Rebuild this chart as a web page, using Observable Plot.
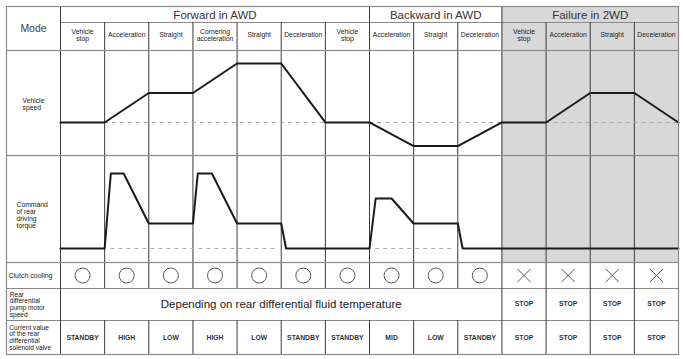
<!DOCTYPE html>
<html><head><meta charset="utf-8">
<script src="https://cdn.jsdelivr.net/npm/d3@7"></script>
<script src="https://cdn.jsdelivr.net/npm/@observablehq/plot@0.6"></script>
<style>
body{margin:0;background:#fff}
#chart{width:683px}
#chart svg{display:block;font-family:"Liberation Sans",Arial,sans-serif}
</style>
</head><body><div id="chart"></div>
<script>
// ---------- data ----------
const groupNames = ["Forward in AWD", "Backward in AWD", "Failure in 2WD"];
const groupStart = [0, 7, 10];
const groupEnd = [7, 10, 14];
const columnLabels = ["Vehicle\nstop", "Acceleration", "Straight", "Cornering\nacceleration", "Straight", "Deceleration", "Vehicle\nstop",
  "Acceleration", "Straight", "Deceleration",
  "Vehicle\nstop", "Acceleration", "Straight", "Deceleration"];
const rowLabels = ["Mode", "Vehicle\nspeed", "Command\nof rear\ndriving\ntorque", "Clutch cooling",
  "Rear\ndifferential\npump motor\nspeed", "Current value\nof the rear\ndifferential\nsolenoid valve"];
const speedTime = [0, 1, 2, 3, 4, 5, 6, 7, 8, 9, 10, 11, 12, 13, 14];
const speedLevel = [0, 0, 1, 1, 2, 2, 0, 0, -0.8, -0.8, 0, 0, 1, 1, 0];
const torqueTime = [0, 1, 1.14, 1.43, 2, 3, 3.11, 3.43, 4, 5, 5.11, 7, 7.14, 7.5, 8, 9, 9.11, 14];
const torqueLevel = [0, 0, 3, 3, 1, 1, 3, 3, 1, 1, 0, 0, 2, 2, 1, 1, 0, 0];
const speedDashFrom = [1, 7, 11];
const speedDashTo = [6, 10, 14];
const torqueDashFrom = [1, 7];
const torqueDashTo = [5, 9];
const clutchCooling = ["O","O","O","O","O","O","O","O","O","O","X","X","X","X"];
const pumpText = "Depending on rear differential fluid temperature";
const pumpSpanEnd = 10;
const pumpValues = ["STOP", "STOP", "STOP", "STOP"];
const solenoidValues = ["STANDBY","HIGH","LOW","HIGH","LOW","STANDBY","STANDBY","MID","LOW","STANDBY","STOP","STOP","STOP","STOP"];

// ---------- layout ----------
const W = 683;
const X0 = -1.2234;            // left edge of label column (in column units)
const NCOL = columnLabels.length;
const failStart = groupStart[2];
const LINE = "#3a3a3a", BORDER = "#8a8a8a", GRAY = "#d8d8d8";
const cols = d3.range(NCOL);
const base = {width: W, marginLeft: 6, marginRight: 5, marginBottom: 0, marginTop: 0,
  x: {domain: [X0, NCOL], axis: null}};
const font = {fontFamily: '"Liberation Sans",Arial,sans-serif'};
const chart = document.getElementById("chart");

// header
chart.append(Plot.plot({...base, height: 50, marginTop: 6,
  y: {domain: [6, 50], range: [6, 50], axis: null},
  marks: [
    Plot.rect([0], {x1: () => failStart, x2: () => NCOL, y1: () => 6, y2: () => 50, fill: GRAY}),
    Plot.ruleY([22], {x1: 0, x2: NCOL, stroke: BORDER, strokeWidth: 1.2}),
    Plot.ruleX(groupStart, {y1: 6, y2: 50, stroke: LINE}),
    Plot.ruleX(cols.filter(i => i > 0 && !groupStart.includes(i)), {y1: 22, y2: 50, stroke: LINE}),
    Plot.frame({stroke: BORDER, strokeWidth: 1.2}),
    Plot.text([rowLabels[0]], {x: X0 / 2, y: 28, text: d => d, fontSize: 10.5, fill: "#444", ...font}),
    Plot.text(groupNames, {x: (d, i) => (groupStart[i] + groupEnd[i]) / 2, y: 14.5, text: d => d, fontSize: 11.5, fill: "#333", ...font}),
    Plot.text(columnLabels, {x: (d, i) => i + 0.5, y: 34.5, text: d => d, fontSize: 6.8, lineHeight: 1.05, fill: "#222", ...font})
  ]}));

// vehicle speed
const sDom = [-1.12, 2.44];
chart.append(Plot.plot({...base, height: 105,
  y: {domain: sDom, axis: null},
  marks: [
    Plot.rect([0], {x1: () => failStart, x2: () => NCOL, y1: () => sDom[0], y2: () => sDom[1], fill: GRAY}),
    Plot.ruleX(cols, {stroke: LINE}),
    Plot.ruleY(speedDashFrom, {y: () => 0, x1: d => d, x2: (d, i) => speedDashTo[i], stroke: "#aaa", strokeDasharray: "4,4"}),
    Plot.line(speedTime, {x: d => d, y: (d, i) => speedLevel[i], stroke: "#1a1a1a", strokeWidth: 2}),
    Plot.text([rowLabels[1]], {x: -0.861, y: 0.61, text: d => d, textAnchor: "start", fontSize: 6.8, lineHeight: 1.05, fill: "#222", ...font}),
    Plot.frame({stroke: BORDER, strokeWidth: 1.2})
  ]}));

// rear driving torque
const tDom = [-0.56, 3.72];
chart.append(Plot.plot({...base, height: 107,
  y: {domain: tDom, axis: null},
  marks: [
    Plot.rect([0], {x1: () => failStart, x2: () => NCOL, y1: () => tDom[0], y2: () => tDom[1], fill: GRAY}),
    Plot.ruleX(cols, {stroke: LINE}),
    Plot.ruleY(torqueDashFrom, {y: () => 0, x1: d => d + 0.14, x2: (d, i) => torqueDashTo[i] - 0.1, stroke: "#aaa", strokeDasharray: "4,4"}),
    Plot.line(torqueTime, {x: d => d, y: (d, i) => torqueLevel[i], stroke: "#1a1a1a", strokeWidth: 2}),
    Plot.text([rowLabels[2]], {x: -0.997, y: 1.32, text: d => d, textAnchor: "start", fontSize: 6.8, lineHeight: 1.0, fill: "#222", ...font}),
    Plot.frame({stroke: BORDER, strokeWidth: 1.2})
  ]}));

// table rows
const pumpCols = pumpValues.map((d, i) => pumpSpanEnd + i);
chart.append(Plot.plot({...base, height: 97, marginBottom: 5,
  y: {domain: [262, 354], range: [0, 92], axis: null},
  marks: [
    Plot.ruleY([288, 320], {x1: X0, x2: NCOL, stroke: BORDER, strokeWidth: 1.2}),
    Plot.ruleX(cols, {y1: 262, y2: 288, stroke: LINE}),
    Plot.ruleX([0, ...pumpCols], {y1: 288, y2: 320, stroke: LINE}),
    Plot.ruleX(cols, {y1: 320, y2: 354, stroke: LINE}),
    Plot.frame({stroke: BORDER, strokeWidth: 1.2}),
    Plot.text([rowLabels[3]], {x: -1.178, y: 275, text: d => d, textAnchor: "start", fontSize: 7, fill: "#222", ...font}),
    Plot.text([rowLabels[4]], {x: -1.15, y: 304, text: d => d, textAnchor: "start", fontSize: 6.6, lineHeight: 1.0, fill: "#222", ...font}),
    Plot.text([rowLabels[5]], {x: -1.16, y: 337, text: d => d, textAnchor: "start", fontSize: 6.6, lineHeight: 1.0, fill: "#222", ...font}),
    Plot.dot(clutchCooling.map((d, i) => i).filter(i => clutchCooling[i] === "O"), {x: d => d + 0.5, y: () => 275, r: 7.5, stroke: "#555", strokeWidth: 1, fill: "none"}),
    Plot.dot(clutchCooling.map((d, i) => i).filter(i => clutchCooling[i] === "X"), {x: d => d + 0.5, y: () => 275, r: 6, symbol: "times", stroke: "#555", strokeWidth: 1}),
    Plot.text([pumpText], {x: pumpSpanEnd / 2, y: 304, text: d => d, fontSize: 11.5, fill: "#222", ...font}),
    Plot.text(pumpValues, {x: (d, i) => pumpCols[i] + 0.5, y: 303, text: d => d, fontSize: 6.8, fontWeight: "bold", fill: "#333", ...font}),
    Plot.text(solenoidValues, {x: (d, i) => i + 0.5, y: 337, text: d => d, fontSize: 6.8, fontWeight: "bold", fill: "#333", ...font})
  ]}));
</script>
</body></html>
